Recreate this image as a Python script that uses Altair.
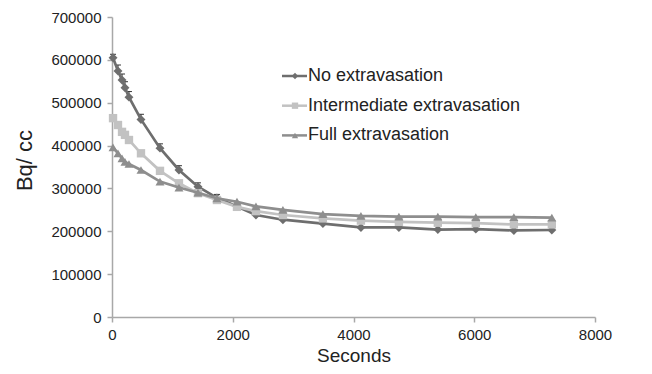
import altair as alt
import pandas as pd

# ---- data ----
seconds = [17, 99, 166, 215, 281, 480, 795, 1109, 1424, 1738,
           2070, 2384, 2831, 3493, 4123, 4752, 5397, 6026, 6656, 7285]
no_ext = [605000, 574000, 553000, 535000, 513000, 461000, 394000, 343000, 304000, 278000,
          258000, 238000, 227000, 218000, 209000, 209000, 204000, 205000, 202000, 203000]
inter_ext = [464000, 448000, 432000, 425000, 413000, 382000, 341000, 312000, 289000, 273000,
             257000, 247000, 238000, 230000, 225000, 222000, 220000, 219000, 216000, 216000]
full_ext = [396000, 382000, 370000, 362000, 357000, 343000, 316000, 302000, 290000, 277000,
            269000, 258000, 250000, 240000, 236000, 234000, 234000, 233000, 233000, 232000]
no_ext_err = [8000, 14000, 14000, 14000, 13000, 12000, 10000, 10000, 9000, 8000,
              8000, 0, 0, 0, 0, 0, 0, 0, 0, 0]

series_names = ["No extravasation", "Intermediate extravasation", "Full extravasation"]
series_values = [no_ext, inter_ext, full_ext]

# ---- styles ----
colors = ["#6e6e6e", "#c2c2c2", "#8e8e8e"]
shapes = ["diamond", "square", "triangle-up"]
sizes = [80, 70, 80]
FONT = "Liberation Sans"

x_scale = alt.Scale(domain=[0, 8000], nice=False)
y_scale = alt.Scale(domain=[0, 700000], nice=False)
x_axis = alt.Axis(values=[0, 2000, 4000, 6000, 8000], title="Seconds", format="d",
                  titleY=44, titleBaseline="alphabetic", titleFontSize=19)
y_axis = alt.Axis(values=[0, 100000, 200000, 300000, 400000, 500000, 600000, 700000],
                  title="Bq/ cc", format="d", titleFontSize=22, titleY=143)

layers = []

# error bars for "No extravasation"
err_df = pd.DataFrame({"Seconds": seconds, "lo": no_ext,
                       "hi": [v + e for v, e in zip(no_ext, no_ext_err)], "err": no_ext_err})
err_base = alt.Chart(err_df).transform_filter("datum.err > 0")
layers.append(err_base.mark_rule(color="#333333", strokeWidth=1).encode(
    x=alt.X("Seconds:Q", scale=x_scale, axis=x_axis),
    y=alt.Y("lo:Q", scale=y_scale, axis=y_axis),
    y2="hi:Q"))
layers.append(err_base.mark_point(shape="M-1,0H1", filled=False, size=36,
                                  strokeWidth=1, color="#333333", opacity=1).encode(
    x=alt.X("Seconds:Q", scale=x_scale),
    y=alt.Y("hi:Q", scale=y_scale)))

for name, vals, c, s, sz in zip(series_names, series_values, colors, shapes, sizes):
    df = pd.DataFrame({"Seconds": seconds, "Bq": vals, "series": name})
    base = alt.Chart(df).encode(
        x=alt.X("Seconds:Q", scale=x_scale, axis=x_axis),
        y=alt.Y("Bq:Q", scale=y_scale, axis=y_axis))
    layers.append(base.mark_line(color=c, strokeWidth=2.7))
    layers.append(base.mark_point(shape=s, filled=True, color=c, size=sz, opacity=1))

# legend (inside plot area, top right)
leg_x_line0, leg_x_line1, leg_x_mark, leg_x_text = 170, 195, 183, 196
leg_y0, leg_dy = 59, 29.7
for i, (name, c, s) in enumerate(zip(series_names, colors, shapes)):
    ldf = pd.DataFrame({"label": [name]})
    yy = leg_y0 + leg_dy * i
    layers.append(alt.Chart(ldf).mark_rule(color=c, strokeWidth=2.5).encode(
        x=alt.value(leg_x_line0), x2=alt.value(leg_x_line1), y=alt.value(yy)))
    layers.append(alt.Chart(ldf).mark_point(shape=s, filled=True, color=c, size=40, opacity=1).encode(
        x=alt.value(leg_x_mark), y=alt.value(yy)))
    layers.append(alt.Chart(ldf).mark_text(align="left", baseline="middle", fontSize=18,
                                           font=FONT, color="#222222").encode(
        x=alt.value(leg_x_text), y=alt.value(yy), text="label:N"))

chart = alt.layer(*layers).properties(
    width=483, height=300,
    autosize=alt.AutoSizeParams(type="none"),
    padding={"left": 104, "top": 9, "right": 49, "bottom": 49},
    background="white",
).configure_view(stroke=None).configure_axis(
    grid=False,
    domainColor="#a8a8a8", domainWidth=1.5,
    tickColor="#a8a8a8", tickSize=5, tickWidth=1.5,
    labelFont=FONT, labelFontSize=15, labelColor="#222222",
    titleFont=FONT, titleFontSize=20, titleFontWeight="normal", titleColor="#222222",
).configure_axisX(labelPadding=5, labelFlush=False
).configure_axisY(labelPadding=6, titlePadding=14)

chart.save("out.html", embed_options={"renderer": "svg", "actions": False})
